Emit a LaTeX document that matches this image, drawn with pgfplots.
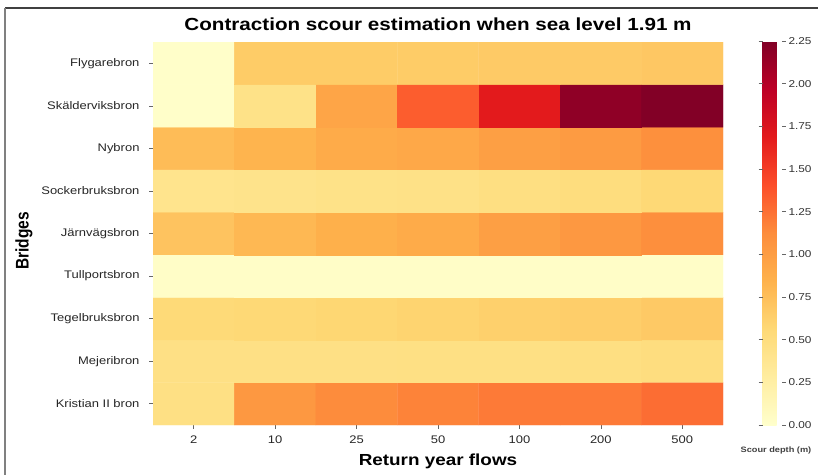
\documentclass[border=0pt]{standalone}
\usepackage{fontspec}
\setmainfont[FakeStretch=1.18]{Liberation Sans}
\newfontfamily\plainsans{Liberation Sans}
\usepackage{graphicx}
\usepackage{pgfplots}
\pgfplotsset{compat=1.18}
\usepackage{pgfplotstable}

\pgfplotsset{
  colormap={ylorrd}{rgb255=(255,255,204) rgb255=(255,237,160) rgb255=(254,217,118) rgb255=(254,178,76) rgb255=(253,141,60) rgb255=(252,78,42) rgb255=(227,26,28) rgb255=(189,0,38) rgb255=(128,0,38)}
}

% x: return period index (0=2,1=10,2=25,3=50,4=100,5=200,6=500)
% y: bridge index from bottom (0=Kristian II bron ... 8=Flygarebron)
\pgfplotstableread{
x y z
0 0 0.47
1 0 1.04
2 0 1.13
3 0 1.17
4 0 1.21
5 0 1.21
6 0 1.27

0 1 0.46
1 1 0.46
2 1 0.46
3 1 0.47
4 1 0.47
5 1 0.48
6 1 0.50

0 2 0.55
1 2 0.56
2 2 0.58
3 2 0.60
4 2 0.63
5 2 0.64
6 2 0.68

0 3 0.03
1 3 0.03
2 3 0.03
3 3 0.03
4 3 0.03
5 3 0.03
6 3 0.03

0 4 0.72
1 4 0.80
2 4 0.86
3 4 0.90
4 4 0.99
5 4 1.04
6 4 1.11

0 5 0.41
1 5 0.42
2 5 0.44
3 5 0.45
4 5 0.48
5 5 0.51
6 5 0.56

0 6 0.77
1 6 0.83
2 6 0.90
3 6 0.92
4 6 0.99
5 6 1.02
6 6 1.10

0 7 0.02
1 7 0.44
2 7 0.94
3 7 1.34
4 7 1.69
5 7 2.18
6 7 2.24

0 8 0.02
1 8 0.66
2 8 0.66
3 8 0.66
4 8 0.67
5 8 0.67
6 8 0.69
}\scourdata

\begin{document}
\begin{tikzpicture}
\path[use as bounding box] (0bp,0bp) rectangle (818bp,-475bp);
\draw[black!75, line width=1.5bp] (5bp,-8bp) -- (818bp,-8bp);
\draw[black!50, line width=1.2bp] (5bp,-8bp) -- (5bp,-475bp);
\begin{axis}[
  at={(153bp,-425bp)}, anchor=south west,
  scale only axis, width=570bp, height=383bp,
  xmin=-0.5, xmax=6.5, ymin=-0.5, ymax=8.5,
  enlargelimits=false,
  xtick={0,...,6}, xticklabels={2,10,25,50,100,200,500},
  ytick={0,...,8},
  yticklabels={Kristian II bron,Mejeribron,Tegelbruksbron,Tullportsbron,Järnvägsbron,Sockerbruksbron,Nybron,Skälderviksbron,Flygarebron},
  axis x line*=bottom, axis y line*=left, axis line style={draw=none},
  tick align=outside, major tick length=4bp,
  tick style={black!60, line width=0.6bp},
  ticklabel style={font=\fontsize{11bp}{13bp}\selectfont, text=black!85},
  xticklabel style={anchor=base, yshift=-14bp},
  yticklabel style={xshift=-6bp},
  /pgf/number format/assume math mode=true,
  title={Contraction scour estimation when sea level 1.91 m},
  title style={font=\bfseries\fontsize{17.5bp}{20bp}\selectfont, anchor=base, at={(0.5,1)}, yshift=6bp},
  xlabel={Return year flows},
  xlabel style={font=\bfseries\fontsize{16bp}{18bp}\selectfont, at={(axis description cs:0.5,0)}, anchor=base, yshift=-40.7bp},
  ylabel={\scalebox{1}[1.18]{\plainsans\bfseries Bridges}},
  ylabel style={font=\fontsize{15.5bp}{17bp}\selectfont, at={(axis description cs:0,0.5)}, anchor=center, rotate=0, yshift=129bp, xshift=-7.5bp},
  colormap name=ylorrd,
  point meta min=0, point meta max=2.25,
  colorbar,
  colorbar style={
    at={(parent axis.north east)}, anchor=north west, xshift=31bp, yshift=1bp,
    scale only axis, width=19bp, height=384bp,
    ytick={0,0.25,...,2.25},
    /pgf/number format/assume math mode=true,
    yticklabel={\pgfmathprintnumber[fixed,fixed zerofill,precision=2]{\tick}},
    yticklabel style={font=\fontsize{10bp}{12bp}\selectfont, text=black!80, xshift=-0.5bp},
    tick align=outside, major tick length=4bp,
    ytick style={black!60, line width=0.6bp},
    axis line style={draw=none},
    xlabel={Scour depth (m)},
    xlabel style={font=\bfseries\fontsize{7.8bp}{9bp}\selectfont, text=black!75, at={(axis description cs:0.5,0)}, anchor=base, yshift=-27bp, xshift=4bp},
  },
]
\addplot[matrix plot*, mesh/cols=7, mesh/rows=9, point meta=explicit] table[x=x, y=y, meta=z] {\scourdata};
\end{axis}
\end{tikzpicture}
\end{document}
